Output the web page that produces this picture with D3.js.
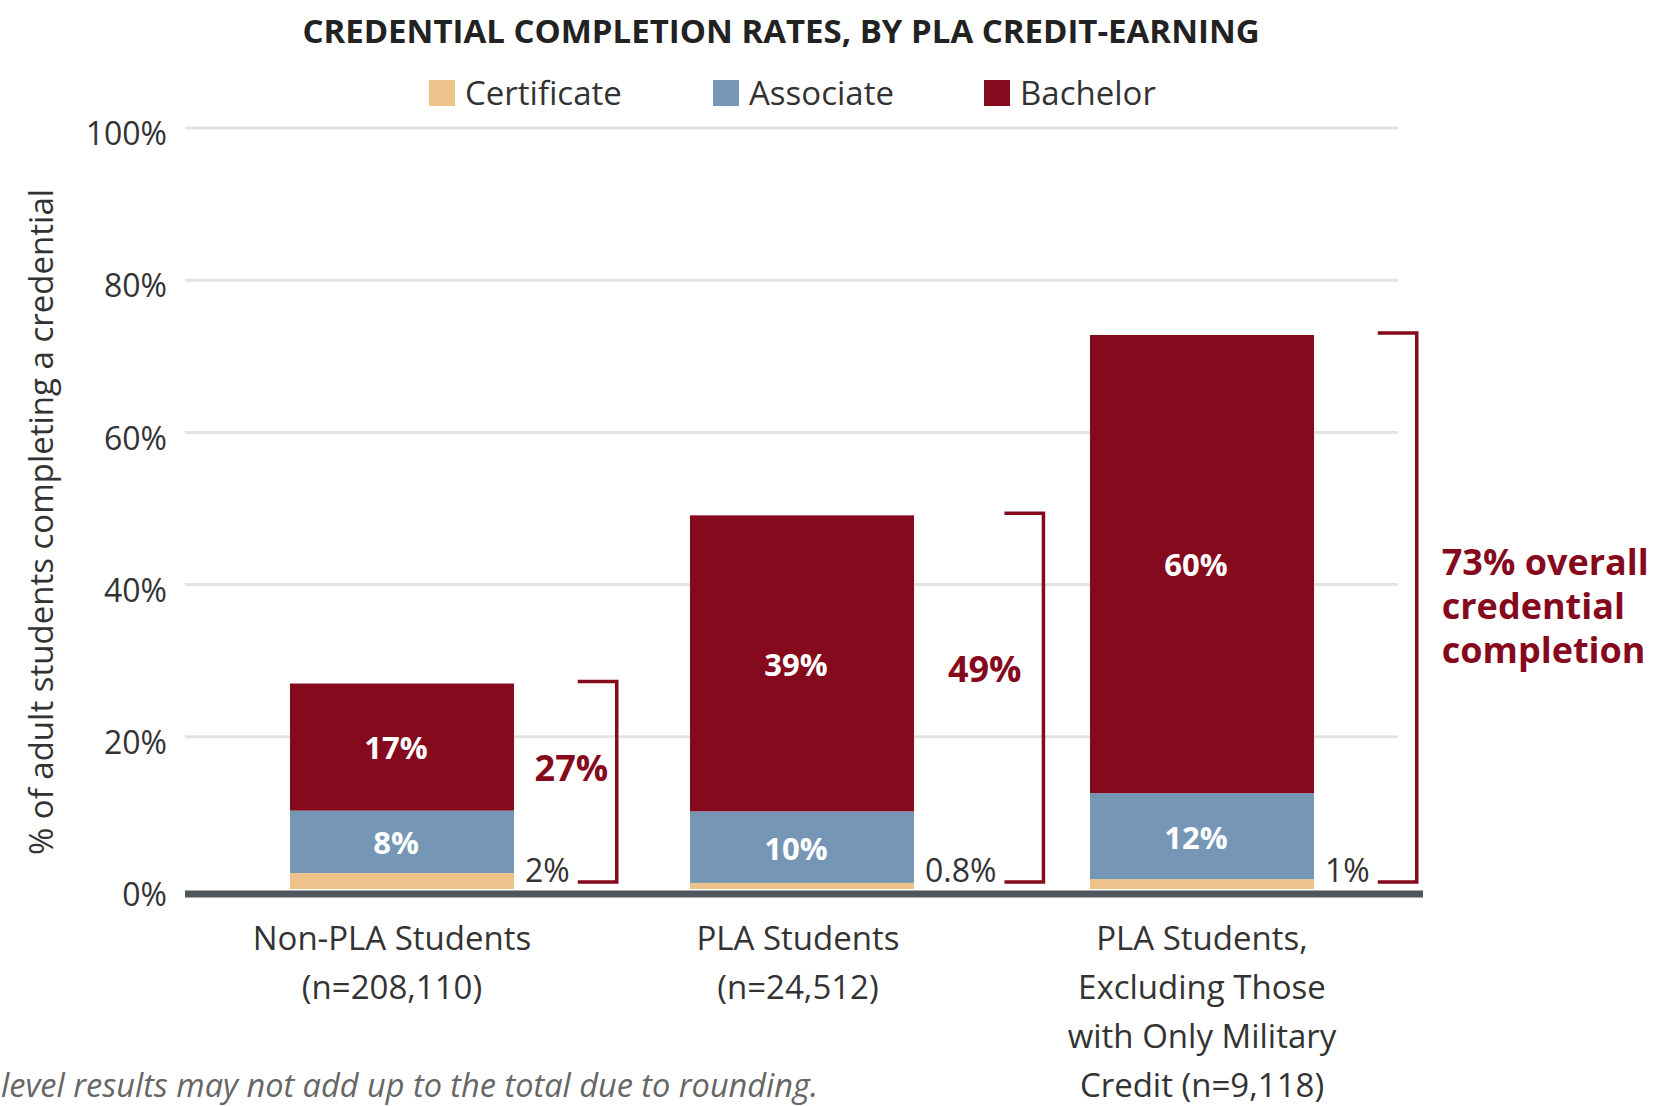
<!DOCTYPE html>
<html>
<head>
<meta charset="utf-8">
<script src="https://cdn.jsdelivr.net/npm/d3@7"></script>
<style>
  body { margin: 0; background: #fff; }
  svg { display: block; font-family: "Open Sans", "Noto Sans", sans-serif; }
</style>
</head>
<body>
<div id="chart"></div>
<script>
// données
const categories = ["Non-PLA", "PLA", "PLA excl. military"];
const categoryLines = [
    ["Non-PLA Students", "(n=208,110)"],
    ["PLA Students", "(n=24,512)"],
    ["PLA Students,", "Excluding Those", "with Only Military", "Credit (n=9,118)"]
];
const seriesNames = ["Certificate", "Associate", "Bachelor"];
const certificate = [2.1, 0.8, 1.3];
const associate = [8.2, 9.4, 11.3];
const bachelor = [16.7, 38.9, 60.2];
const certificateLabels = ["2%", "0.8%", "1%"];
const associateLabels = ["8%", "10%", "12%"];
const bachelorLabels = ["17%", "39%", "60%"];
const totalLabels = ["27%", "49%", "73%"];
const yTicks = [0, 20, 40, 60, 80, 100];

const colors = {Certificate: "#eec28a", Associate: "#7597b5", Bachelor: "#850a1d"};
const red = "#850a1d";
const textColor = "#333";

const width = 1661, height = 1106;
const left = 185, gridRight = 1398, axisRight = 1423;

const rows = categories.map((c, i) => ({
    cat: c,
    Certificate: certificate[i],
    Associate: associate[i],
    Bachelor: bachelor[i]
}));

const x = d3.scaleBand().domain(categories).range([202, 1402]).paddingInner(0.44).paddingOuter(0.22);
const y = d3.scaleLinear().domain([0, 100]).range([889, 128]);

const svg = d3.select("#chart").append("svg")
    .attr("width", width)
    .attr("height", height);

// titre
svg.append("text")
    .attr("x", 781).attr("y", 43)
    .attr("text-anchor", "middle")
    .attr("font-size", 33).attr("font-weight", 700)
    .attr("fill", "#222")
    .text("CREDENTIAL COMPLETION RATES, BY PLA CREDIT-EARNING");

// légende
const legendX = [429, 713, 984];
const legend = svg.selectAll(".legend").data(seriesNames).enter().append("g")
    .attr("class", "legend")
    .attr("transform", (d, i) => `translate(${legendX[i]},80)`);
legend.append("rect").attr("width", 26).attr("height", 26).attr("fill", d => colors[d]);
legend.append("text").attr("x", 36).attr("y", 25)
    .attr("font-size", 33).attr("fill", textColor).text(d => d);

// grille
svg.append("g").selectAll("line").data(yTicks.filter(d => d > 0)).enter().append("line")
    .attr("x1", left).attr("x2", gridRight)
    .attr("y1", d => y(d)).attr("y2", d => y(d))
    .attr("stroke", "#e3e3e3").attr("stroke-width", 3);

// axe y
const yAxis = d3.axisLeft(y).tickValues(yTicks).tickSize(0).tickPadding(18).tickFormat(d => d + "%");
const gy = svg.append("g").attr("transform", `translate(${left},0)`).call(yAxis);
gy.select(".domain").remove();
gy.selectAll("text").attr("font-size", 32).attr("fill", textColor)
    .attr("font-family", "Open Sans").attr("dy", "0.52em");

svg.append("text")
    .attr("transform", "translate(53,522) rotate(-90)")
    .attr("text-anchor", "middle")
    .attr("font-size", 33).attr("fill", textColor)
    .text("% of adult students completing a credential");

// barres empilées
const stacked = d3.stack().keys(seriesNames)(rows);
svg.append("g").selectAll("g").data(stacked).enter().append("g")
    .attr("fill", d => colors[d.key])
    .selectAll("rect").data(d => d).enter().append("rect")
    .attr("x", d => x(d.data.cat))
    .attr("width", x.bandwidth())
    .attr("y", d => y(d[1]))
    .attr("height", d => y(d[0]) - y(d[1]));

// étiquettes dans les barres
const inside = [
    {key: "Associate", labels: associateLabels},
    {key: "Bachelor", labels: bachelorLabels}
];
inside.forEach(s => {
    const layer = stacked.find(l => l.key === s.key);
    svg.append("g").selectAll("text").data(layer).enter().append("text")
        .attr("x", d => x(d.data.cat) + x.bandwidth() / 2 - 6)
        .attr("y", d => y((d[0] + d[1]) / 2))
        .attr("dy", "0.4em")
        .attr("text-anchor", "middle")
        .attr("font-size", 31).attr("font-weight", 700).attr("fill", "#fff")
        .text((d, i) => s.labels[i]);
});

// axe x (ligne épaisse)
svg.append("line")
    .attr("x1", left).attr("x2", axisRight)
    .attr("y1", y(0) + 5).attr("y2", y(0) + 5)
    .attr("stroke", "#4f565c").attr("stroke-width", 7);

// étiquettes certificat + accolades + totaux
categories.forEach((c, i) => {
    const barRight = x(c) + x.bandwidth();
    const total = certificate[i] + associate[i] + bachelor[i];
    const certText = svg.append("text")
        .attr("x", barRight + 11).attr("y", y(0) - 7)
        .attr("font-size", 32).attr("fill", textColor)
        .text(certificateLabels[i]);
    const bx0 = barRight + 11 + certText.node().getComputedTextLength() + 8;
    const bx1 = bx0 + 39;
    const top = y(total) - 2, bottom = y(0) - 7;
    svg.append("path")
        .attr("d", `M${bx0},${top}H${bx1}V${bottom}H${bx0}`)
        .attr("fill", "none").attr("stroke", red).attr("stroke-width", 3.5);

    const ly = y(total * 0.59);
    if (i < categories.length - 1) {
        svg.append("text")
            .attr("x", (barRight + bx1) / 2 + 6).attr("y", ly).attr("dy", "0.36em")
            .attr("text-anchor", "middle")
            .attr("font-size", 36).attr("font-weight", 700).attr("fill", red)
            .text(totalLabels[i]);
    } else {
        const t = svg.append("text")
            .attr("x", bx1 + 25).attr("y", ly).attr("dy", "0.36em")
            .attr("font-size", 36).attr("font-weight", 700).attr("fill", red);
        [totalLabels[i] + " overall", "credential", "completion"].forEach((line, k) => {
            t.append("tspan").attr("x", bx1 + 25).attr("dy", k === 0 ? "0.36em" : 44).text(line);
        });
    }
});

// libellés des catégories
const labelShift = [-10, -4, 0];
categories.forEach((c, i) => {
    const t = svg.append("text")
        .attr("text-anchor", "middle")
        .attr("font-size", 33).attr("fill", textColor);
    categoryLines[i].forEach((line, k) => {
        t.append("tspan")
            .attr("x", x(c) + x.bandwidth() / 2 + labelShift[i])
            .attr("y", 950 + k * 49)
            .text(line);
    });
});

// note (coupée à gauche)
svg.append("text")
    .attr("x", 1).attr("y", 1097)
    .attr("font-size", 32.5).attr("font-style", "italic").attr("fill", "#666")
    .text("level results may not add up to the total due to rounding.");
</script>
</body>
</html>
